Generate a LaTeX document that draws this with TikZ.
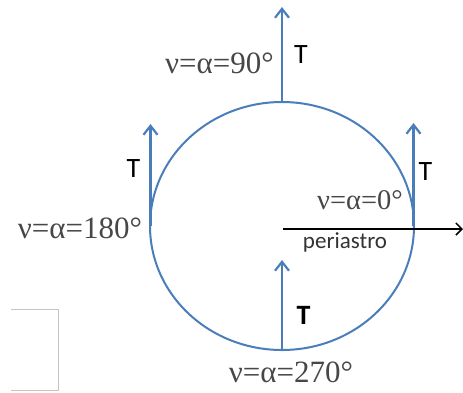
\documentclass[tikz,border=0pt]{standalone}
\usepackage{fontspec}
\setmainfont{Liberation Serif}
\newfontfamily\calib{Carlito}
\usetikzlibrary{arrows.meta}
\definecolor{orbblue}{HTML}{4A7EBB}
\definecolor{boxgray}{HTML}{C4C4C4}
\definecolor{peritext}{HTML}{333333}
\tikzset{
  tvec/.style={draw=orbblue, line width=2.6pt, -{Straight Barb[length=9pt,width=14pt,line width=2.2pt]}},
  anglelbl/.style={inner sep=0pt, anchor=base, font=\fontsize{31}{31}\selectfont, text=black!72},
  tlbl/.style={inner sep=0pt, anchor=base, font=\calib\fontsize{28}{28}\selectfont},
}
\begin{document}
\begin{tikzpicture}[x=1pt,y=-1pt]
\useasboundingbox (0,0) rectangle (463,392);
% orbit
\draw[orbblue, line width=2pt] (282,226) ellipse [x radius=132, y radius=124];
\coordinate (top) at (282,102);
\coordinate (left) at (150.5,226);
\coordinate (right) at (413.5,226);
\coordinate (bottom) at (282,350);
\coordinate (toptip) at (282,7);
\coordinate (lefttip) at (150.5,124);
\coordinate (righttip) at (413.5,123);
\coordinate (bottomtip) at (282,260);
\draw[tvec] (top) -- (toptip);
\draw[tvec] (left) -- (lefttip);
\draw[tvec] (right) -- (righttip);
\draw[tvec] (bottom) -- (bottomtip);
% periastro line
\coordinate (c) at (283,229);
\coordinate (pend) at (463,229);
\draw[line width=2.2pt, -{Straight Barb[length=6pt,width=12pt,line width=1.5pt]}] (c) -- (pend);
% labels
\node[anglelbl] (l90) at (219.5,73) {ν=α=90°};
\node[anglelbl] (l180) at (80,238) {ν=α=180°};
\node[anglelbl, font=\fontsize{28.5}{28.5}\selectfont] (l0) at (360,209) {ν=α=0°};
\node[anglelbl] (l270) at (291,382) {ν=α=270°};
\node[tlbl] (t90) at (301,63) {T};
\node[tlbl] (t180) at (133.5,177) {T};
\node[tlbl] (t0) at (425.5,180) {T};
\node[tlbl, font=\calib\bfseries\fontsize{28}{28}\selectfont] (t270) at (303.5,324) {T};
\node[inner sep=0pt, anchor=base, font=\calib\fontsize{23}{23}\selectfont, text=peritext] (peri) at (345,248) {periastro};
% small box
\draw[boxgray, line width=1pt] (11,309) -- (58.5,309) -- (58.5,390) -- (11,390);
\end{tikzpicture}
\end{document}
